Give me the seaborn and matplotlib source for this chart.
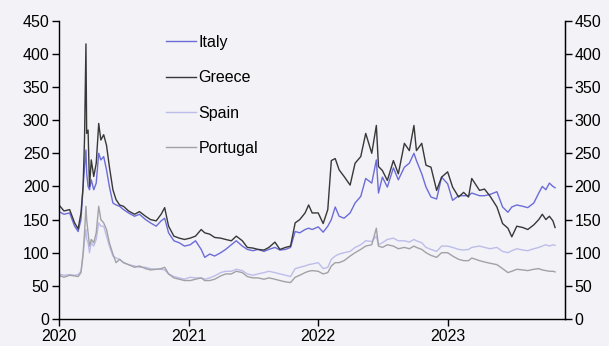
import matplotlib
matplotlib.use("Agg")
import matplotlib.pyplot as plt
import matplotlib.dates as mdates
import pandas as pd
import seaborn as sns

dates = [
    "2020-01-01", "2020-01-15", "2020-01-31", "2020-02-14", "2020-02-24", "2020-03-03",
    "2020-03-09", "2020-03-13", "2020-03-17", "2020-03-19", "2020-03-23", "2020-03-27",
    "2020-04-01", "2020-04-08", "2020-04-15", "2020-04-22", "2020-04-28", "2020-05-06",
    "2020-05-14", "2020-05-22", "2020-06-01", "2020-06-10", "2020-06-20", "2020-07-01",
    "2020-07-15", "2020-08-01", "2020-08-15", "2020-09-01", "2020-09-15", "2020-10-01",
    "2020-10-15", "2020-10-25", "2020-11-05", "2020-11-20", "2020-12-05", "2020-12-20",
    "2021-01-05", "2021-01-20", "2021-02-05", "2021-02-15", "2021-03-01", "2021-03-15",
    "2021-04-01", "2021-04-15", "2021-05-01", "2021-05-15", "2021-06-01", "2021-06-15",
    "2021-07-01", "2021-07-15", "2021-08-01", "2021-08-15", "2021-09-01", "2021-09-15",
    "2021-10-01", "2021-10-15", "2021-10-28", "2021-11-10", "2021-11-25", "2021-12-05",
    "2021-12-15", "2022-01-01", "2022-01-15", "2022-01-28", "2022-02-07", "2022-02-18",
    "2022-03-01", "2022-03-15", "2022-04-01", "2022-04-15", "2022-05-01", "2022-05-15",
    "2022-06-01", "2022-06-14", "2022-06-20", "2022-07-01", "2022-07-15", "2022-08-01",
    "2022-08-15", "2022-09-01", "2022-09-15", "2022-09-28", "2022-10-05", "2022-10-20",
    "2022-11-01", "2022-11-15", "2022-12-01", "2022-12-15", "2023-01-01", "2023-01-15",
    "2023-02-01", "2023-02-15", "2023-03-01", "2023-03-10", "2023-04-01", "2023-04-15",
    "2023-05-01", "2023-05-20", "2023-06-05", "2023-06-20", "2023-07-01", "2023-07-15",
    "2023-08-01", "2023-08-15", "2023-09-01", "2023-09-15", "2023-09-25", "2023-10-05",
    "2023-10-15", "2023-10-25", "2023-10-31",
]

italy = [
    162, 158, 160, 140, 132, 150,
    200, 230, 255, 220, 200, 195,
    210, 195, 205, 250, 240, 245,
    225, 200, 175, 172, 170, 165,
    160, 155, 158, 150, 145, 140,
    148, 152, 130, 118, 115, 110,
    112, 118, 105, 93, 98, 95,
    100, 105, 112, 118, 110, 105,
    103, 105, 102, 105, 108, 104,
    105, 108, 132, 130, 135, 137,
    135, 139, 131, 140, 150, 169,
    155, 152, 160, 175, 185, 212,
    205, 240, 190, 214, 199, 228,
    210, 229, 235, 250, 239, 219,
    199, 184, 181, 214, 204, 179,
    186, 186, 186, 190, 186, 186,
    188, 192, 169, 161, 169, 172,
    170, 168, 175, 190, 200, 195,
    205, 200, 198,
]

greece = [
    172, 163, 165, 145, 136, 160,
    200, 272, 415, 280, 285, 200,
    240, 215, 235, 295, 270, 278,
    262, 230, 195, 180, 172, 170,
    163, 158, 162, 155, 150, 148,
    158, 168, 140, 125, 122, 120,
    122, 125, 135, 130, 128, 123,
    122, 120, 118, 125, 118, 108,
    107, 105, 104, 108, 116, 105,
    108, 110, 145, 150, 160, 172,
    160, 160, 144, 165, 239, 242,
    225, 215, 202, 235, 245, 280,
    250, 292, 230, 224, 209, 239,
    219, 265, 254, 292, 254, 265,
    232, 229, 194, 214, 222, 199,
    184, 191, 184, 212, 194, 196,
    185, 169, 144, 137, 124, 140,
    138, 135, 142, 150, 158, 150,
    155, 148, 138,
]

spain = [
    68, 66, 67, 66, 67, 72,
    95, 120, 135, 120, 115, 100,
    115, 110, 120, 145, 140, 140,
    125, 110, 95, 92, 90, 85,
    82, 80, 78, 78, 76, 75,
    75, 74, 68, 64, 62, 60,
    63, 62, 62, 60, 62, 65,
    70, 72, 72, 75, 73, 68,
    66, 68, 70, 72, 70, 68,
    66, 64, 76, 78, 80, 82,
    83, 85, 76, 78, 90, 95,
    98, 100, 102, 108, 112, 118,
    117, 125, 112, 115, 120, 122,
    118, 118, 116, 120, 118, 115,
    108, 105, 102, 110, 110, 108,
    105, 104, 105, 108, 110, 108,
    106, 108, 102, 100, 103, 106,
    104, 103, 106, 108, 110, 112,
    110, 112, 111,
]

portugal = [
    66, 63, 66, 65, 64, 70,
    100, 130, 170, 150, 130, 110,
    120, 115, 130, 170, 150, 145,
    135, 115, 98, 85, 90, 85,
    82, 78, 80, 76, 74, 75,
    76, 78, 68, 62, 60, 58,
    58, 60, 62, 58, 58, 60,
    65, 68, 68, 72, 70, 64,
    62, 62, 60, 62, 60, 58,
    56, 55, 63, 66, 70, 72,
    73, 72, 68, 70, 80, 85,
    85, 88, 95, 100, 105, 110,
    112, 137, 110, 108, 112, 110,
    106, 108, 106, 110, 108, 105,
    100, 96, 93, 100, 100, 95,
    90, 88, 88, 92, 88, 86,
    84, 82, 76, 70, 72, 75,
    74, 73, 75, 76, 74, 73,
    72, 72, 71,
]

countries = ["Italy", "Greece", "Spain", "Portugal"]
colors = ["#6C6CD8", "#383838", "#BDBDEA", "#A2A2A6"]
y_ticks = [0, 50, 100, 150, 200, 250, 300, 350, 400, 450]
x_ticks = ["2020-01-01", "2021-01-01", "2022-01-01", "2023-01-01"]

frames = []
for name, vals in zip(countries, [italy, greece, spain, portugal]):
    frames.append(pd.DataFrame({"date": pd.to_datetime(dates), "value": vals, "country": name}))
df = pd.concat(frames, ignore_index=True)

bg = "#F2F2F7"
plt.rcParams["font.family"] = ["Liberation Sans", "DejaVu Sans"]
fig = plt.figure(figsize=(6.09, 3.46), dpi=100, facecolor=bg)
ax = fig.add_axes([59 / 609, 1 - 319 / 346, (565 - 59) / 609, (319 - 20.7) / 346])
ax.set_facecolor(bg)

sns.lineplot(data=df, x="date", y="value", hue="country", hue_order=countries,
             palette=colors, linewidth=1.0, ax=ax)

ax.set_xlim(pd.Timestamp("2020-01-01"), pd.Timestamp("2023-11-28"))
ax.set_ylim(0, 450)
ax.set_yticks(y_ticks)
ax.set_xticks(pd.to_datetime(x_ticks))
ax.xaxis.set_major_formatter(mdates.DateFormatter("%Y"))
ax.set_xlabel("")
ax.set_ylabel("")
ax.spines["top"].set_visible(False)
for s in ["left", "bottom", "right"]:
    ax.spines[s].set_linewidth(1.0)
    ax.spines[s].set_color("#000000")
ax.tick_params(axis="both", labelsize=11.5, length=5, width=1, direction="out", pad=2)

ax2 = ax.twinx()
ax2.set_ylim(0, 450)
ax2.set_yticks(y_ticks)
ax2.spines["top"].set_visible(False)
ax2.spines["left"].set_visible(False)
ax2.spines["bottom"].set_visible(False)
ax2.tick_params(axis="y", labelsize=11.5, length=5, width=1, direction="out", pad=2)

leg = ax.legend(loc="upper left", bbox_to_anchor=(0.211, 0.952), frameon=False,
                fontsize=11.5, labelspacing=1.27, handlelength=1.9, handletextpad=0.15,
                borderpad=0, borderaxespad=0)

fig.savefig("out.png", dpi=100, facecolor=bg)
